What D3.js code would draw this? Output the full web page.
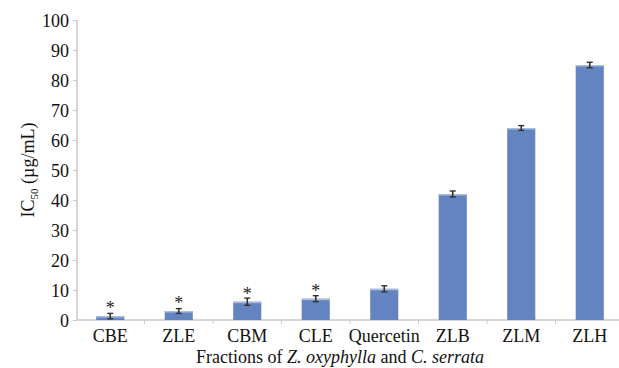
<!DOCTYPE html>
<html><head><meta charset="utf-8">
<script src="https://cdn.jsdelivr.net/npm/d3@7"></script>
<style>body{margin:0;background:#fff}svg{display:block}</style>
</head><body>
<svg id="c" width="619" height="368"></svg>
<script>
const categories = ["CBE","ZLE","CBM","CLE","Quercetin","ZLB","ZLM","ZLH"];
const values = [1.3, 3.0, 6.1, 7.1, 10.4, 42.0, 64.0, 85.0];
const errors = [0.9, 0.8, 1.2, 1.0, 1.0, 1.0, 0.8, 0.9];
const significant = [true, true, true, true, false, false, false, false];
const yTicks = [0,10,20,30,40,50,60,70,80,90,100];

const FONT = '"Liberation Serif"';
const svg = d3.select("#c");
const x = d3.scaleBand().domain(categories).range([76, 624]).paddingInner(0.59).paddingOuter(0.295);
const y = d3.scaleLinear().domain([0,100]).range([320, 20]);

// y axis
const yAxis = d3.axisLeft(y).tickValues(yTicks).tickSize(4).tickPadding(4);
const gy = svg.append("g").attr("transform","translate(77,0)").call(yAxis);
gy.attr("font-family",null);
gy.select(".domain").attr("stroke","#d6d6d6").attr("stroke-width",2).attr("d","M0,20V320");
gy.selectAll(".tick line").attr("stroke","#c8c8c8");
gy.selectAll(".tick text").style("font-family",FONT).style("font-size","18px").attr("fill","#111").attr("dy","0.34em");

// x axis
const boundaries = d3.range(1, categories.length).map(i => x.range()[0] + i*x.step());
svg.append("line").attr("x1",76).attr("x2",619).attr("y1",320).attr("y2",320).attr("stroke","#d6d6d6").attr("stroke-width",2);
svg.selectAll(".xt").data(boundaries).enter().append("line")
  .attr("x1",d=>d).attr("x2",d=>d).attr("y1",320).attr("y2",324).attr("stroke","#c8c8c8");

// bars
svg.selectAll(".bar").data(categories).enter().append("rect")
  .attr("x",d=>x(d)).attr("width",x.bandwidth())
  .attr("y",(d,i)=>y(values[i])).attr("height",(d,i)=>y(0)-y(values[i]))
  .attr("fill","#6383c1");
svg.selectAll(".bartop").data(categories).enter().append("rect")
  .attr("x",d=>x(d)).attr("width",x.bandwidth())
  .attr("y",(d,i)=>y(values[i])).attr("height",1.5)
  .attr("fill","#a9bde3");

// error bars
const eb = svg.selectAll(".eb").data(categories).enter().append("g");
eb.append("line").attr("x1",d=>x(d)+x.bandwidth()/2).attr("x2",d=>x(d)+x.bandwidth()/2)
  .attr("y1",(d,i)=>y(values[i]+errors[i])).attr("y2",(d,i)=>y(Math.max(0,values[i]-errors[i])))
  .attr("stroke","#333").attr("stroke-width",1.6);
eb.append("line").attr("x1",d=>x(d)+x.bandwidth()/2-3).attr("x2",d=>x(d)+x.bandwidth()/2+3)
  .attr("y1",(d,i)=>y(values[i]+errors[i])).attr("y2",(d,i)=>y(values[i]+errors[i]))
  .attr("stroke","#333").attr("stroke-width",1.4);
eb.append("line").attr("x1",d=>x(d)+x.bandwidth()/2-3).attr("x2",d=>x(d)+x.bandwidth()/2+3)
  .attr("y1",(d,i)=>y(Math.max(0,values[i]-errors[i]))).attr("y2",(d,i)=>y(Math.max(0,values[i]-errors[i])))
  .attr("stroke","#333").attr("stroke-width",1.4);

// asterisks
svg.selectAll(".ast").data(categories.filter((d,i)=>significant[i])).enter().append("text")
  .attr("x",d=>x(d)+x.bandwidth()/2)
  .attr("y",d=>{const i=categories.indexOf(d); return y(values[i])-2;})
  .attr("text-anchor","middle").style("font-family",FONT).style("font-size","18px").attr("fill","#222")
  .text("*");

// category labels
svg.selectAll(".cl").data(categories).enter().append("text")
  .attr("x",d=>x(d)+x.bandwidth()/2).attr("y",342)
  .attr("text-anchor","middle").style("font-family",FONT).style("font-size","18px").attr("fill","#111").text(d=>d);

// y title
const yt = svg.append("text").attr("transform","translate(34,170) rotate(-90)")
  .attr("text-anchor","middle").style("font-family",FONT).style("font-size","18px").attr("fill","#111");
yt.append("tspan").text("IC");
yt.append("tspan").style("font-size","11px").attr("dy",4).text("50");
yt.append("tspan").attr("dy",-4).text(" (µg/mL)");

// x title
const xt = svg.append("text").attr("x",340).attr("y",363).attr("text-anchor","middle")
  .style("font-family",FONT).style("font-size","18px").attr("fill","#111");
xt.append("tspan").text("Fractions of ");
xt.append("tspan").style("font-style","italic").text("Z. oxyphylla");
xt.append("tspan").text(" and ");
xt.append("tspan").style("font-style","italic").text("C. serrata");
</script>
</body></html>
